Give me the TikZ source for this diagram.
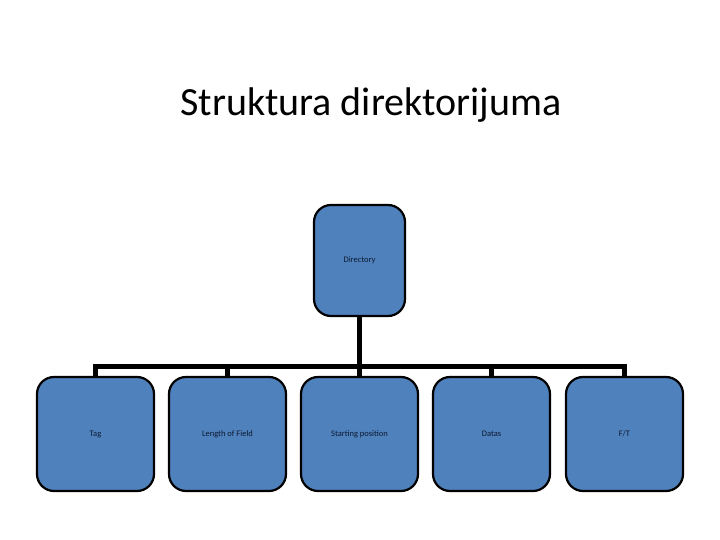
\documentclass[tikz,border=0pt]{standalone}
\usepackage{fontspec}
\setmainfont{Carlito}
\definecolor{boxblue}{HTML}{4F81BD}
\definecolor{txtnavy}{HTML}{0C1A30}
\begin{document}
\begin{tikzpicture}[x=1pt,y=-1pt,
  orgbox/.style={draw=black,line width=2.2pt,fill=boxblue,rounded corners=17pt,
    minimum width=117pt,minimum height=114pt,inner sep=0pt,
    text height=6pt,text depth=2pt,
    font=\fontsize{8.5}{10}\selectfont,text=txtnavy},
  topbox/.style={orgbox,minimum width=91pt,minimum height=111pt},
  conn/.style={line width=4.5pt,draw=black}]
\useasboundingbox (0,0) rectangle (720,540);
\node[font=\fontsize{40}{44}\selectfont] (title) at (371,105) {Struktura direktorijuma};
\node[topbox] (dir) at (359.5,260.5) {Directory};
\node[orgbox] (b1) at (95.5,434) {Tag};
\node[orgbox] (b2) at (227.5,434) {Length of Field};
\node[orgbox] (b3) at (359.5,434) {Starting position};
\node[orgbox] (b4) at (491.5,434) {Datas};
\node[orgbox] (b5) at (624.5,434) {F/T};
\coordinate (bar) at (359.5,366.5);
\draw[conn] (dir.south) -- (bar);
\draw[conn,line cap=rect] (b1.north) |- (bar) -| (b5.north);
\draw[conn] (b2.north) -- (b2.north |- bar);
\draw[conn] (b3.north) -- (b3.north |- bar);
\draw[conn] (b4.north) -- (b4.north |- bar);
\end{tikzpicture}
\end{document}
